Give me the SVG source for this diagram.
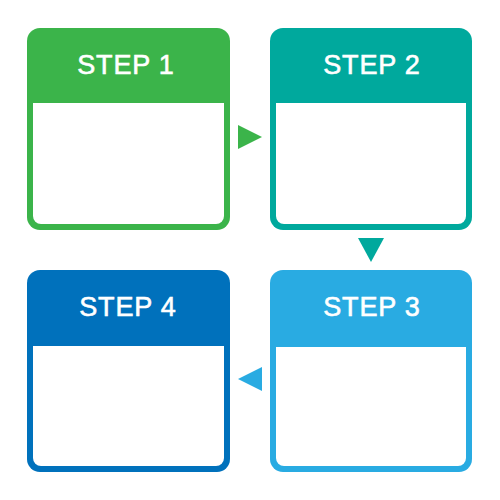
<svg xmlns="http://www.w3.org/2000/svg" width="500" height="500" viewBox="0 0 500 500">
<style>
.inner{fill:#ffffff}
.lbl{font-family:"Liberation Sans",Arial,sans-serif;font-size:27px;fill:#ffffff;stroke:#ffffff;stroke-width:0.6px;text-anchor:middle;letter-spacing:0.8px}
</style>
<rect width="500" height="500" fill="#ffffff"/>
<g id="step1">
<rect x="27" y="28" width="203" height="202" rx="13" fill="#3bb44a"/>
<path class="inner" d="M33 103 H224 V216 A8 8 0 0 1 216 224 H41 A8 8 0 0 1 33 216 Z"/>
<text class="lbl" x="126" y="74">STEP 1</text>
</g>
<g id="step2">
<rect x="270" y="28" width="202" height="202" rx="13" fill="#00a99d"/>
<path class="inner" d="M276 103 H466 V216 A8 8 0 0 1 458 224 H284 A8 8 0 0 1 276 216 Z"/>
<text class="lbl" x="372" y="74">STEP 2</text>
</g>
<g id="step3">
<rect x="270" y="270" width="202" height="202" rx="13" fill="#29abe2"/>
<path class="inner" d="M276 347 H466 V458 A8 8 0 0 1 458 466 H284 A8 8 0 0 1 276 458 Z"/>
<text class="lbl" x="372" y="316">STEP 3</text>
</g>
<g id="step4">
<rect x="27" y="270" width="203" height="202" rx="13" fill="#0071bc"/>
<path class="inner" d="M33 346 H224 V458 A8 8 0 0 1 216 466 H41 A8 8 0 0 1 33 458 Z"/>
<text class="lbl" x="128" y="316">STEP 4</text>
</g>
<g id="connectors">
<polygon points="238,125 262,137 238,149" fill="#3bb44a"/>
<polygon points="358,238 384,238 371,262" fill="#00a99d"/>
<polygon points="262,367 238,379 262,391" fill="#29abe2"/>
</g>
</svg>
